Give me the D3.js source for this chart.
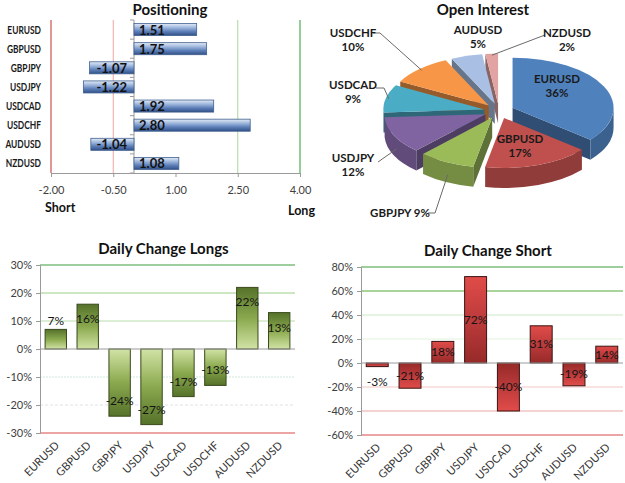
<!DOCTYPE html>
<html><head><meta charset="utf-8">
<script src="https://cdn.jsdelivr.net/npm/d3@7"></script>
<style>
body{margin:0;background:#fff}
svg{display:block}
text{font-family:Lato,"Open Sans","Liberation Sans",sans-serif}
</style>
</head><body>
<svg id="c" width="625" height="483"></svg>
<script>
// ---------- DATA ----------
const pairs = ["EURUSD","GBPUSD","GBPJPY","USDJPY","USDCAD","USDCHF","AUDUSD","NZDUSD"];
const positioning = [1.51,1.75,-1.07,-1.22,1.92,2.80,-1.04,1.08];
const positionTicks = [-2.00,-0.50,1.00,2.50,4.00];
const openInterest = [36,17,9,12,9,10,5,2];
const changeLongs = [7,16,-24,-27,-17,-13,22,13];
const longTicks = [30,20,10,0,-10,-20,-30];
const changeShort = [-3,-21,18,72,-40,31,-19,14];
const shortTicks = [80,60,40,20,0,-20,-40,-60];

const svg = d3.select("#c");
const defs = svg.append("defs");
function vgrad(id, stops){
  const g = defs.append("linearGradient").attr("id",id).attr("x1",0).attr("y1",0).attr("x2",0).attr("y2",1);
  stops.forEach(s=>g.append("stop").attr("offset",s[0]).attr("stop-color",s[1]));
}
vgrad("gBlue",[[0,"#e3ebf6"],[0.3,"#a6bde0"],[0.65,"#5e80b9"],[1,"#2f4f86"]]);
vgrad("gGreenUp",[[0,"#55722a"],[0.5,"#8aa94e"],[1,"#d2e3a6"]]);
vgrad("gGreenDown",[[0,"#d2e3a6"],[0.5,"#8aa94e"],[1,"#55722a"]]);
vgrad("gRedUp",[[0,"#e04c49"],[0.55,"#b9393a"],[1,"#962a28"]]);
vgrad("gRedDown",[[0,"#962a28"],[0.45,"#b9393a"],[1,"#e04c49"]]);

function squeeze(sel, k){
  sel.each(function(){
    const w=this.getComputedTextLength();
    d3.select(this).attr("textLength",w*k).attr("lengthAdjust","spacingAndGlyphs");
  });
}
function title(x,y,t){
  svg.append("text").attr("x",x).attr("y",y).attr("text-anchor","middle")
    .attr("font-size",15).attr("font-weight","bold").attr("fill","#111").text(t);
}

// ---------- POSITIONING ----------
(function(){
  const x = d3.scaleLinear().domain([-2,4]).range([51,300]);
  const y = d3.scaleBand().domain(pairs).range([20,173]).paddingInner(0.37).paddingOuter(0.185);
  const g = svg.append("g");
  title(170,15,"Positioning");
  const refColors = {"-2":"#c0302b","-0.5":"#f2a3a3","2.5":"#a9d69c","4":"#2f9a2f"};
  positionTicks.filter(t=>refColors[String(t)]).forEach(t=>{
    g.append("line").attr("x1",x(t)).attr("x2",x(t)).attr("y1",20).attr("y2",173)
      .attr("stroke",refColors[String(t)]).attr("stroke-width",1);
  });
  g.append("line").attr("x1",x(0)).attr("x2",x(0)).attr("y1",20).attr("y2",173).attr("stroke","#9a9a9a");
  d3.range(pairs.length+1).forEach(i=>{
    const yy = 20 + i*y.step();
    g.append("line").attr("x1",x(0)-4).attr("x2",x(0)).attr("y1",yy).attr("y2",yy).attr("stroke","#9a9a9a");
  });
  const ax = g.append("g").attr("transform","translate(0,173)")
    .call(d3.axisBottom(x).tickValues(positionTicks).tickFormat(d=>d.toFixed(2)).tickSize(4).tickPadding(9));
  ax.select(".domain").attr("stroke","#9a9a9a");
  ax.selectAll(".tick line").attr("stroke","#9a9a9a");
  ax.selectAll("text").attr("font-size",11).attr("fill","#404040").style("font-family","Lato,'Open Sans',sans-serif");
  g.selectAll("rect.bar").data(positioning).join("rect").attr("class","bar")
    .attr("x",d=>x(Math.min(0,d))).attr("width",d=>Math.abs(x(d)-x(0)))
    .attr("y",(d,i)=>y(pairs[i])).attr("height",y.bandwidth())
    .attr("fill","url(#gBlue)").attr("stroke","#41608f").attr("stroke-width",0.8);
  g.selectAll("text.val").data(positioning).join("text").attr("class","val")
    .attr("x",d=>d>=0?x(0)+5:x(0)-7).attr("text-anchor",d=>d>=0?"start":"end")
    .attr("y",(d,i)=>y(pairs[i])+y.bandwidth()/2+5)
    .attr("font-size",13).attr("font-weight","bold").attr("fill","#111")
    .text(d=>d.toFixed(2));
  const cats = g.selectAll("text.cat").data(pairs).join("text").attr("class","cat")
    .attr("x",41).attr("y",d=>y(d)+y.bandwidth()/2+4).attr("text-anchor","end")
    .attr("font-size",10.5).attr("font-weight","bold").attr("fill","#1a1a1a").text(d=>d);
  squeeze(cats,0.8);
  g.append("text").attr("x",45).attr("y",212).attr("font-size",12.5).attr("font-weight","bold").attr("fill","#111").text("Short");
  g.append("text").attr("x",288).attr("y",215).attr("font-size",12.5).attr("font-weight","bold").attr("fill","#111").text("Long");
})();

// ---------- OPEN INTEREST (3D pie) ----------
(function(){
  title(483,15,"Open Interest");
  const colors = ["#4F81BD","#C0504D","#9BBB59","#8064A2","#4BACC6","#F79646","#A9C0E4","#E3A3A3"];
  const P = {cx:499, cy:111, rx:101, ry:50, depth:20, explode:15};
  const arcs = d3.pie().sort(null).value(d=>d)(openInterest);
  const g = svg.append("g");
  function off(a){ return [P.explode*Math.sin(a), -P.explode*(P.ry/P.rx)*Math.cos(a)]; }
  function pt(a,r,o,dz){ return [P.cx+o[0]+P.rx*r*Math.sin(a), P.cy+o[1]-P.ry*r*Math.cos(a)+(dz||0)]; }
  const slices = arcs.map((d,i)=>{
    const mid=(d.startAngle+d.endAngle)/2;
    return {d,i,mid,o:off(mid)};
  });
  slices.slice().sort((a,b)=>(-Math.cos(a.mid))-(-Math.cos(b.mid))).forEach(s=>{
    const a0=s.d.startAngle, a1=s.d.endAngle, o=s.o, D=P.depth;
    const base=d3.color(colors[s.i]);
    const apex=pt(0,0,o), apexD=pt(0,0,o,D);
    const face=(a)=>{
      const p=pt(a,1,o), pd=pt(a,1,o,D);
      g.append("path").attr("d",`M${apex}L${p}L${pd}L${apexD}Z`).attr("fill",base.darker(1.4));
    };
    if(Math.sin(a0)<-1e-6) face(a0);
    if(Math.sin(a1)>1e-6) face(a1);
    const s0=Math.max(a0,Math.PI/2), e0=Math.min(a1,3*Math.PI/2);
    if(s0<e0){
      const p1=pt(s0,1,o), p2=pt(e0,1,o), p2d=pt(e0,1,o,D), p1d=pt(s0,1,o,D);
      g.append("path").attr("d",`M${p1}A${P.rx},${P.ry} 0 0 1 ${p2}L${p2d}A${P.rx},${P.ry} 0 0 0 ${p1d}Z`)
        .attr("fill",base.darker(0.8));
    }
    const q0=pt(a0,1,o), q1=pt(a1,1,o);
    const large=(a1-a0)>Math.PI?1:0;
    g.append("path").attr("d",`M${apex}L${q0}A${P.rx},${P.ry} 0 ${large} 1 ${q1}Z`).attr("fill",base);
  });
  // label placement (annotation layout)
  const pieLabelLayout = {
    EURUSD:{x:557,y:86},
    GBPUSD:{x:520,y:146},
    GBPJPY:{x:400,y:213,single:true,lead:[[435,213]],from:[428,213]},
    USDJPY:{x:353,y:165,from:[378,162]},
    USDCAD:{x:353,y:92,from:[376,88],lead:[[384,88]]},
    USDCHF:{x:353,y:40,from:[373,33],lead:[[380,33]]},
    AUDUSD:{x:478,y:37},
    NZDUSD:{x:567,y:40,from:[545,35]}
  };
  slices.forEach(s=>{
    const name=pairs[s.i], L=pieLabelLayout[name], pct=openInterest[s.i]+"%";
    if(L.from){
      const front=Math.cos(s.mid)<0;
      const end=pt(s.mid,0.97,s.o,front?P.depth*0.7:0);
      const pts=[L.from].concat(L.lead||[]).concat([end]);
      g.append("polyline").attr("points",pts.join(" ")).attr("fill","none").attr("stroke","#6a6a6a").attr("stroke-width",1);
    }
    const t=g.append("text").attr("text-anchor","middle").attr("font-size",11.5).attr("font-weight","bold").attr("fill","#1a1a1a");
    if(L.single){
      t.attr("x",L.x).attr("y",L.y+4).text(name+" "+pct);
    } else {
      t.append("tspan").attr("x",L.x).attr("y",L.y-3).text(name);
      t.append("tspan").attr("x",L.x).attr("y",L.y+11).text(pct);
    }
  });
})();

// ---------- DAILY CHANGE charts ----------
function changeChart(opt){
  const g = svg.append("g");
  const y = d3.scaleLinear().domain(opt.domain).range([opt.bottom,opt.top]);
  const x = d3.scaleBand().domain(pairs).range([opt.left,opt.right]).paddingInner(0.33).paddingOuter(0.16);
  title((opt.left+opt.right)/2+opt.titleDx,opt.titleY,opt.title);
  opt.ticks.forEach(t=>{
    if(t===0) return;
    const st=opt.grid(t);
    g.append("line").attr("x1",opt.left).attr("x2",opt.right).attr("y1",y(t)).attr("y2",y(t))
      .attr("stroke",st[0]).attr("stroke-width",st[1]).attr("stroke-dasharray",st[2]||null);
  });
  const ya = g.append("g").attr("transform",`translate(${opt.left},0)`)
    .call(d3.axisLeft(y).tickValues(opt.ticks).tickFormat(d=>d+"%").tickSize(4).tickPadding(4));
  ya.select(".domain").attr("stroke","#9a9a9a");
  ya.selectAll(".tick line").attr("stroke","#9a9a9a");
  ya.selectAll("text").attr("font-size",11).attr("fill","#404040").style("font-family","Lato,'Open Sans',sans-serif");
  const vals=opt.values;
  g.selectAll("rect.bar").data(vals).join("rect").attr("class","bar")
    .attr("x",(d,i)=>x(pairs[i])).attr("width",x.bandwidth())
    .attr("y",d=>y(Math.max(0,d))).attr("height",d=>Math.abs(y(d)-y(0)))
    .attr("fill",d=>d>=0?opt.fillUp:opt.fillDown).attr("stroke",opt.stroke).attr("stroke-width",1);
  g.append("line").attr("x1",opt.left).attr("x2",opt.right).attr("y1",y(0)).attr("y2",y(0)).attr("stroke","#9a9a9a");
  g.selectAll("text.val").data(vals).join("text").attr("class","val")
    .attr("x",(d,i)=>x(pairs[i])+x.bandwidth()/2).attr("text-anchor","middle")
    .attr("y",d=>opt.labelY(d,y)+4)
    .attr("font-size",12).attr("fill","#151515").text(d=>d+"%");
  g.selectAll("text.cat").data(pairs).join("text").attr("class","cat")
    .attr("text-anchor","end").attr("font-size",11).attr("fill","#333")
    .attr("transform",d=>`translate(${x(d)+x.bandwidth()/2+4},${opt.bottom+13}) rotate(-45)`).text(d=>d);
}
changeChart({
  title:"Daily Change Longs", titleY:254, titleDx:-4,
  values:changeLongs, ticks:longTicks, domain:[-30,30],
  left:40, right:295, top:265, bottom:433,
  fillUp:"url(#gGreenUp)", fillDown:"url(#gGreenDown)", stroke:"#3a4a1c",
  grid:t=>({30:["#3e9b3e",1.2],20:["#9ccf8c",1.2],10:["#b9e0ad",1.2],"-10":["#cfe8dc",1,"2,1"],"-20":["#e2e2e2",1,"3,2"],"-30":["#d94b4b",1.2]})[t],
  labelY:(d,y)=>{
    const len=Math.abs(y(d)-y(0));
    if(len<25) return d>=0?y(d)-8:y(d)+8;
    return d>=0?y(d)+15:y(d)-15;
  }
});
changeChart({
  title:"Daily Change Short", titleY:256, titleDx:-4,
  values:changeShort, ticks:shortTicks, domain:[-60,80],
  left:361, right:623, top:267, bottom:435,
  fillUp:"url(#gRedUp)", fillDown:"url(#gRedDown)", stroke:"#3a1212",
  grid:t=>({80:["#3e9b3e",1.2],60:["#a9d49a",2],40:["#cfe8c6",1.2],20:["#e3f1de",1.2],"-20":["#f3c6c6",1.2],"-40":["#eca5a5",1.2],"-60":["#d94b4b",1.2]})[t],
  labelY:(d,y)=>{
    const len=Math.abs(y(d)-y(0));
    if(len<12) return d>=0?y(d)-12:y(d)+15;
    return (y(d)+y(0))/2;
  }
});
</script>
</body></html>
